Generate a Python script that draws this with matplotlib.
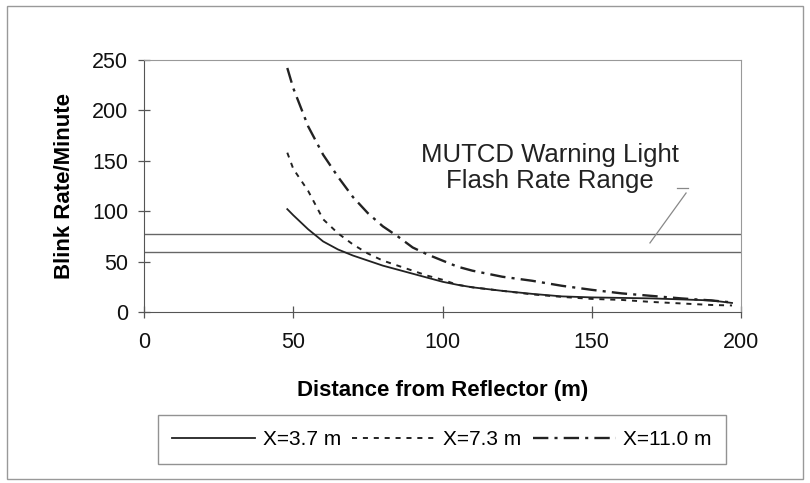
import numpy as np
import matplotlib.pyplot as plt
from matplotlib.patches import Rectangle

plt.rcParams['font.family'] = ['Liberation Sans', 'DejaVu Sans']

# distance from reflector (m)
dist = [48, 50, 55, 60, 65, 70, 75, 80, 85, 90, 95, 100, 105, 110,
        120, 130, 140, 150, 160, 170, 180, 190, 197]
# blink rate per minute for each lateral offset
rate_37 = [102, 96, 82, 70, 62, 56, 51, 46, 42, 38, 34, 30, 27, 24.5,
           21, 18, 15.5, 14.5, 14, 13.5, 12.5, 11.5, 9]
rate_73 = [158, 142, 120, 92, 78, 67, 58, 51, 46, 41, 36, 32, 27, 24.5,
           21, 17.5, 15, 13, 12, 10, 8.5, 7, 6.5]
rate_110 = [242, 222, 184, 156, 134, 114, 98, 85, 75, 64, 57, 51, 45, 41,
            35, 31, 26, 22, 18.5, 16, 13.5, 11.5, 9.5]

mutcd_low = 60
mutcd_high = 77

fig = plt.figure(figsize=(8.1, 4.83), dpi=100)
ax = fig.add_axes([0.1778, 0.354, 0.737, 0.522])

# outer frame of the figure
fig.patches.append(Rectangle((0.009, 0.008), 0.982, 0.98, transform=fig.transFigure,
                             fill=False, edgecolor='#999999', lw=1))

ax.axhline(mutcd_high, color='#666666', lw=1)
ax.axhline(mutcd_low, color='#666666', lw=1)

ax.plot(dist, rate_37, color='#222222', lw=1.3, label='X=3.7 m')
ax.plot(dist, rate_73, color='#222222', lw=1.4, dashes=(2.6, 3.0), label='X=7.3 m')
ax.plot(dist, rate_110, color='#222222', lw=1.7, dashes=(6.5, 2.6, 1.3, 2.6), label='X=11.0 m')

ax.text(136, 143, 'MUTCD Warning Light\nFlash Rate Range', ha='center', va='center',
        fontsize=18.5, color='#222222', linespacing=1.1)
ax.plot([169.5, 181.6], [68.5, 118], color='#888888', lw=0.9)
ax.plot([178.6, 182.3], [123, 123], color='#888888', lw=0.9)

ax.set_xlim(0, 200)
ax.set_ylim(0, 250)
ax.set_xticks([0, 50, 100, 150, 200])
ax.set_yticks([0, 50, 100, 150, 200, 250])
ax.tick_params(direction='inout', length=9, width=0.9, color='#555555',
               labelsize=15.5, labelcolor='#111111')
ax.tick_params(axis='x', pad=10)
ax.tick_params(axis='y', pad=7)
for s in ['left', 'bottom']:
    ax.spines[s].set_color('#555555')
for s in ['top', 'right']:
    ax.spines[s].set_color('#999999')

ax.set_xlabel('Distance from Reflector (m)', fontsize=16, fontweight='bold', labelpad=19)
ax.set_ylabel('Blink Rate/Minute', fontsize=16, fontweight='bold', labelpad=12)

leg = fig.legend(loc='center', bbox_to_anchor=(0.5457, 0.09), ncol=3, fontsize=15,
                 frameon=True, fancybox=False, edgecolor='#777777',
                 handlelength=4.0, handletextpad=0.35, columnspacing=0.55,
                 borderpad=0.7, borderaxespad=0)
leg.get_frame().set_linewidth(1)

fig.savefig('out.png', dpi=100)
